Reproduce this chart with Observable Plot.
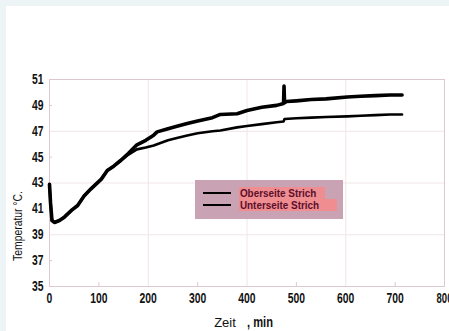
<!DOCTYPE html>
<html>
<head>
<meta charset="utf-8">
<script src="https://cdn.jsdelivr.net/npm/d3@7"></script>
<script src="https://cdn.jsdelivr.net/npm/@observablehq/plot@0.6"></script>
<style>
  html, body { margin: 0; padding: 0; }
  body { width: 449px; height: 331px; background: #ecf4f6; overflow: hidden; position: relative; }
  #wrap { position: absolute; left: 6px; top: 6px; width: 443px; height: 325px; background: #fff; }
  #legend { position: absolute; left: 189px; top: 174px; width: 148px; height: 39px; background: #c9a2b3; }
  .lrow { position: absolute; left: 0; width: 148px; height: 12px; }
  .lline { position: absolute; left: 8px; width: 28px; height: 0; border-top: 2px solid #000; }
  .ltext { position: absolute; left: 44px; top: 0; height: 12px; background: #f08d90;
           font-size: 11px; line-height: 12px; }
  .ltext span { display: block; height: 12px; color: #5a0f2c; font-family: "Liberation Sans", Arial, sans-serif;
           font-size: 11px; font-weight: bold; line-height: 12px; white-space: nowrap; padding-left: 1px;
           transform: scaleX(0.9); transform-origin: 0 50%; }
</style>
</head>
<body>
<div id="wrap"></div>
<script>
// ---- data ----
const timeUpper = [0, 2, 5, 10, 20, 30, 45, 57, 70, 84, 105, 117, 130, 144, 160, 177, 195, 211, 218, 240, 260, 279, 300, 330, 346, 380, 400, 430, 460, 474, 475, 476, 480, 500, 530, 560, 603, 630, 660, 690, 714];
const tempUpper = [42.9, 41.5, 40.1, 39.95, 40.1, 40.36, 40.9, 41.26, 42.0, 42.55, 43.3, 43.96, 44.3, 44.74, 45.3, 45.95, 46.3, 46.7, 46.95, 47.2, 47.4, 47.6, 47.8, 48.05, 48.3, 48.35, 48.6, 48.85, 49.0, 49.15, 50.5, 49.2, 49.3, 49.35, 49.45, 49.5, 49.65, 49.7, 49.75, 49.8, 49.8];
const timeLower = [0, 2, 5, 10, 20, 30, 45, 57, 70, 84, 105, 117, 130, 144, 160, 177, 195, 211, 240, 260, 279, 300, 330, 346, 380, 400, 430, 460, 474, 476, 500, 530, 560, 603, 630, 660, 690, 714];
const tempLower = [42.9, 41.5, 40.1, 39.95, 40.1, 40.36, 40.9, 41.26, 42.0, 42.55, 43.3, 43.96, 44.3, 44.7, 45.2, 45.6, 45.75, 45.9, 46.3, 46.5, 46.67, 46.85, 47.0, 47.06, 47.3, 47.4, 47.55, 47.7, 47.75, 47.95, 48.0, 48.05, 48.1, 48.15, 48.2, 48.25, 48.3, 48.3];
const xTicks = [0, 100, 200, 300, 400, 500, 600, 700, 800];
const yTicks = [35, 37, 39, 41, 43, 45, 47, 49, 51];
const xGrid = [200, 400, 600];
const yGrid = [39, 43, 47];
const xMinor = [100, 300, 500, 700];
const yMinor = [37, 41, 45, 49];
const seriesNames = ["Oberseite Strich", "Unterseite Strich"];
const yLabel = "Temperatur °C.";
const xLabelA = "Zeit";
const xLabelB = ", min";

const upper = timeUpper.map((t, i) => ({t, v: tempUpper[i]}));
const lower = timeLower.map((t, i) => ({t, v: tempLower[i]}));

const gridColor = "#f0e4e7";
const frameColor = "#dcc8ce";
const numFont = '"Liberation Sans Narrow", "Liberation Sans", Arial, sans-serif';

const chart = Plot.plot({
  width: 443, height: 325,
  marginLeft: 43, marginRight: 5, marginTop: 73, marginBottom: 45,
  x: {domain: [0, 800]},
  y: {domain: [35, 51]},
  style: {background: "white", fontFamily: numFont, overflow: "visible"},
  marks: [
    Plot.gridX(xGrid, {stroke: gridColor, strokeOpacity: 1}),
    Plot.gridY(yGrid, {stroke: gridColor, strokeOpacity: 1}),
    Plot.frame({stroke: frameColor}),
    Plot.ruleX(xMinor, {y1: 35, y2: 35.3, stroke: frameColor}),
    Plot.ruleY(yMinor, {x1: 0, x2: 6, stroke: frameColor}),
    Plot.line(lower, {x: "t", y: "v", stroke: "#000", strokeWidth: 2.6}),
    Plot.line(upper, {x: "t", y: "v", stroke: "#000", strokeWidth: 3.6}),
    Plot.axisX(xTicks, {tickSize: 0, tickPadding: 7, fontSize: 14, fontWeight: "bold", fill: "#111", label: null}),
    Plot.axisY(yTicks, {tickSize: 0, tickPadding: 6, fontSize: 14, fontWeight: "bold", fill: "#111", label: null}),
    Plot.text([yLabel], {frameAnchor: "left", textAnchor: "middle", rotate: -90, dx: -32, dy: 43, fontSize: 13,
      fontFamily: '"Liberation Sans", sans-serif', fill: "#111"}),
    Plot.text([xLabelA], {frameAnchor: "bottom", dx: -22, dy: 40, fontSize: 13,
      fontFamily: '"Liberation Sans", sans-serif', fill: "#111"}),
    Plot.text([xLabelB], {frameAnchor: "bottom", dx: 13, dy: 40, fontSize: 15, fontWeight: "bold",
      fontFamily: numFont, fill: "#111"})
  ]
});

// narrow the condensed-looking texts horizontally (reading direction)
function squeeze(textEl, s) {
  const tr = textEl.getAttribute("transform");
  if (tr) {
    textEl.setAttribute("transform", tr + ` scale(${s},1)`);
  } else {
    const x = +textEl.getAttribute("x") || 0, y = +textEl.getAttribute("y") || 0;
    textEl.removeAttribute("x"); textEl.removeAttribute("y");
    textEl.setAttribute("transform", `translate(${x},${y}) scale(${s},1)`);
  }
}
chart.querySelectorAll("text").forEach(t => {
  const s = t.textContent;
  if (/^\d+$/.test(s)) squeeze(t, s === "800" ? 0.68 : 0.74);
  else if (s === xLabelB) squeeze(t, 0.74);
  else if (s === yLabel) squeeze(t, 0.8);
});

const wrap = document.getElementById("wrap");
wrap.appendChild(chart);

// legend (HTML overlay)
const legend = document.createElement("div");
legend.id = "legend";
const tops = [7, 19];
const widths = [86, 98];
seriesNames.forEach((name, i) => {
  const row = document.createElement("div");
  row.className = "lrow";
  row.style.top = tops[i] + "px";
  row.innerHTML = `<div class="lline" style="top:5px"></div><div class="ltext" style="width:${widths[i]}px"><span>${name}</span></div>`;
  legend.appendChild(row);
});
wrap.appendChild(legend);
</script>
</body>
</html>
